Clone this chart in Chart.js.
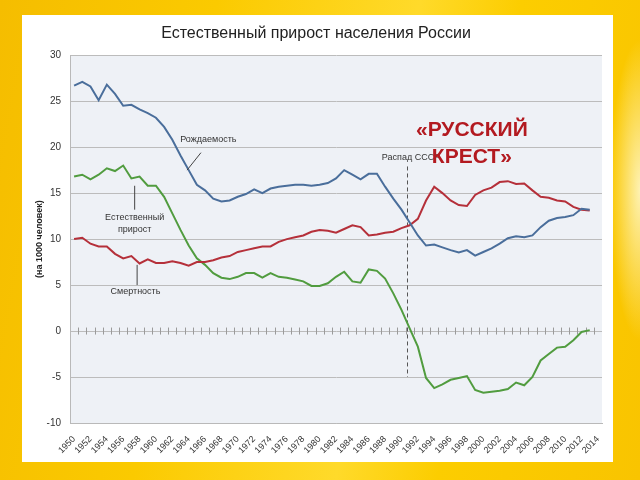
<!DOCTYPE html>
<html>
<head>
<meta charset="utf-8">
<script src="https://cdn.jsdelivr.net/npm/chart.js"></script>
<style>
  html, body { margin: 0; padding: 0; }
  body {
    width: 640px; height: 480px; overflow: hidden; position: relative;
    background:
      radial-gradient(ellipse 30px 150px at 640px 190px, rgba(255,250,210,0.85), rgba(255,235,120,0) 100%),
      linear-gradient(100deg, #f5bd00 0%, #fbca00 30%, #ffda2a 58%, #fccd00 72%, #f9c400 100%);
  }
  #panel { position: absolute; left: 22px; top: 15px; width: 591px; height: 447px; background: #fff; }
  #wrap { position: absolute; left: 0; top: 0; width: 640px; height: 480px; }
</style>
</head>
<body>
<div id="panel"></div>
<div id="wrap"><canvas id="crossCanvas" width="640" height="480"></canvas></div>
<script>
var years = [1950, 1951, 1952, 1953, 1954, 1955, 1956, 1957, 1958, 1959,
  1960, 1961, 1962, 1963, 1964, 1965, 1966, 1967, 1968, 1969,
  1970, 1971, 1972, 1973, 1974, 1975, 1976, 1977, 1978, 1979,
  1980, 1981, 1982, 1983, 1984, 1985, 1986, 1987, 1988, 1989,
  1990, 1991, 1992, 1993, 1994, 1995, 1996, 1997, 1998, 1999,
  2000, 2001, 2002, 2003, 2004, 2005, 2006, 2007, 2008, 2009,
  2010, 2011, 2012, 2013, 2014];

// рождаемость (на 1000 человек)
var birthRate = [26.7, 27.1, 26.6, 25.1, 26.8, 25.8, 24.5, 24.6, 24.1, 23.7,
  23.2, 22.2, 20.8, 19.1, 17.5, 15.9, 15.3, 14.4, 14.1, 14.2,
  14.6, 14.9, 15.4, 15.0, 15.5, 15.7, 15.8, 15.9, 15.9, 15.8,
  15.9, 16.1, 16.6, 17.5, 17.0, 16.5, 17.1, 17.1, 15.7, 14.4,
  13.2, 11.8, 10.4, 9.3, 9.4, 9.1, 8.8, 8.55, 8.8, 8.2,
  8.6, 9.0, 9.5, 10.1, 10.3, 10.2, 10.4, 11.3, 12.0, 12.3,
  12.4, 12.6, 13.3, 13.2, null];

// смертность
var deathRate = [10.0, 10.15, 9.5, 9.2, 9.2, 8.4, 7.9, 8.15, 7.35, 7.8,
  7.4, 7.4, 7.6, 7.4, 7.1, 7.5, 7.5, 7.7, 8.0, 8.15,
  8.6, 8.8, 9.0, 9.2, 9.2, 9.7, 10.0, 10.2, 10.4, 10.8,
  11.0, 10.9, 10.7, 11.1, 11.5, 11.3, 10.4, 10.5, 10.7, 10.8,
  11.2, 11.5, 12.2, 14.2, 15.7, 15.0, 14.2, 13.7, 13.6, 14.8,
  15.3, 15.6, 16.2, 16.3, 16.0, 16.05, 15.3, 14.6, 14.5, 14.2,
  14.1, 13.5, 13.2, 13.1, null];

// естественный прирост
var naturalGrowth = [16.8, 17.0, 16.5, 17.0, 17.7, 17.4, 18.0, 16.6, 16.8, 15.8,
  15.8, 14.6, 12.8, 11.0, 9.3, 7.9, 7.2, 6.3, 5.8, 5.65,
  5.9, 6.3, 6.3, 5.8, 6.3, 5.9, 5.8, 5.6, 5.4, 4.9,
  4.9, 5.2, 5.9, 6.45, 5.4, 5.25, 6.7, 6.55, 5.7, 4.1,
  2.3, 0.3, -1.7, -5.1, -6.2, -5.8, -5.3, -5.1, -4.9, -6.4,
  -6.7, -6.6, -6.5, -6.3, -5.6, -5.9, -5.0, -3.2, -2.5, -1.8,
  -1.7, -1.0, -0.1, 0.1, null];

var yTickValues = [-10, -5, 0, 5, 10, 15, 20, 25, 30];

var sans = '"Liberation Sans", Arial, sans-serif';

function px(chart, year) {
  return chart.scales.x.getPixelForValue(year - years[0]);
}
function py(chart, v) {
  return chart.scales.y.getPixelForValue(v);
}

var decor = {
  id: 'decor',
  beforeDraw: function(chart) {
    var a = chart.chartArea, ctx = chart.ctx;
    ctx.save();
    ctx.fillStyle = '#eef1f6';
    ctx.fillRect(a.left, a.top, a.right - a.left, a.bottom - a.top);
    ctx.restore();
  },
  beforeDatasetsDraw: function(chart) {
    var ctx = chart.ctx, y0 = py(chart, 0);
    ctx.save();
    ctx.strokeStyle = '#9a9a9a';
    ctx.lineWidth = 1;
    ctx.beginPath();
    for (var i = 0; i < years.length - 1; i++) {
      var x = Math.round(px(chart, years[i] + 0.5)) + 0.5;
      ctx.moveTo(x, y0 - 3.5);
      ctx.lineTo(x, y0 + 3.5);
    }
    ctx.stroke();

    // Распад СССР
    var xd = Math.round(px(chart, 1990.7)) + 0.5;
    ctx.strokeStyle = '#555';
    ctx.setLineDash([4, 3]);
    ctx.beginPath();
    ctx.moveTo(xd, py(chart, 17.9));
    ctx.lineTo(xd, py(chart, -5));
    ctx.stroke();
    ctx.restore();
  },
  afterDatasetsDraw: function(chart) {
    var ctx = chart.ctx;
    ctx.save();
    ctx.strokeStyle = '#444';
    ctx.lineWidth = 1;
    ctx.beginPath();
    ctx.moveTo(px(chart, 1965.5), py(chart, 19.4));
    ctx.lineTo(px(chart, 1963.8), py(chart, 17.5));
    ctx.moveTo(px(chart, 1957.4), py(chart, 15.8));
    ctx.lineTo(px(chart, 1957.4), py(chart, 13.2));
    ctx.moveTo(px(chart, 1957.7), py(chart, 7.2));
    ctx.lineTo(px(chart, 1957.7), py(chart, 5.0));
    ctx.stroke();

    ctx.fillStyle = '#333';
    ctx.font = '9px ' + sans;
    ctx.textAlign = 'center';
    ctx.textBaseline = 'middle';
    ctx.fillText('Рождаемость', px(chart, 1966.4), py(chart, 20.8));
    ctx.fillText('Естественный', px(chart, 1957.4), py(chart, 12.4));
    ctx.fillText('прирост', px(chart, 1957.4), py(chart, 11.0));
    ctx.fillText('Смертность', px(chart, 1957.5), py(chart, 4.3));
    ctx.textAlign = 'left';
    ctx.fillText('Распад СССР', px(chart, 1987.6), py(chart, 18.9));

    ctx.fillStyle = '#b31a20';
    ctx.font = 'bold 21px ' + sans;
    ctx.textAlign = 'center';
    ctx.fillText('«РУССКИЙ', px(chart, 1998.6), py(chart, 21.85));
    ctx.fillText('КРЕСТ»', px(chart, 1998.6), py(chart, 18.9));
    ctx.restore();
  }
};

var ctx = document.getElementById('crossCanvas');

var crossChart = new Chart(ctx, {
  type: 'line',
  data: {
    labels: years,
    datasets: [
      {
        label: 'Рождаемость',
        data: birthRate,
        borderColor: '#4a6e9b',
        borderWidth: 2,
        pointRadius: 0,
        tension: 0
      },
      {
        label: 'Смертность',
        data: deathRate,
        borderColor: '#b5303a',
        borderWidth: 2,
        pointRadius: 0,
        tension: 0
      },
      {
        label: 'Естественный прирост',
        data: naturalGrowth,
        borderColor: '#519c3f',
        borderWidth: 2,
        pointRadius: 0,
        tension: 0
      }
    ]
  },
  options: {
    responsive: false,
    animation: false,
    events: [],
    layout: { padding: { left: 30, right: 38, top: 15, bottom: 18 } },
    plugins: {
      legend: { display: false },
      tooltip: { enabled: false },
      title: {
        display: true,
        text: 'Естественный прирост населения России',
        color: '#222',
        font: { family: sans, size: 16, weight: 'normal' },
        padding: { top: 9, bottom: 12 }
      }
    },
    scales: {
      x: {
        type: 'category',
        offset: true,
        grid: { display: false },
        border: { display: true, color: '#b9b9b9' },
        ticks: {
          autoSkip: false,
          minRotation: 45,
          maxRotation: 45,
          padding: 3,
          color: '#333',
          font: { family: sans, size: 9 },
          callback: function(val, i) {
            return i % 2 === 0 ? years[i] : '';
          }
        },
        afterFit: function(scale) { scale.height = 39; }
      },
      y: {
        min: -10,
        max: 30,
        afterBuildTicks: function(scale) {
          scale.ticks = yTickValues.map(function(v) { return { value: v }; });
        },
        grid: { color: '#bcbcbc', lineWidth: 1, drawTicks: false },
        border: { display: true, color: '#b9b9b9' },
        ticks: {
          padding: 9,
          color: '#333',
          font: { family: sans, size: 10 }
        },
        title: {
          display: true,
          text: '(на 1000 человек)',
          color: '#222',
          font: { family: sans, size: 9, weight: 'bold' },
          padding: { top: 4, bottom: 0 }
        },
        afterFit: function(scale) { scale.width = 40; }
      }
    }
  },
  plugins: [decor]
});
</script>
</body>
</html>
